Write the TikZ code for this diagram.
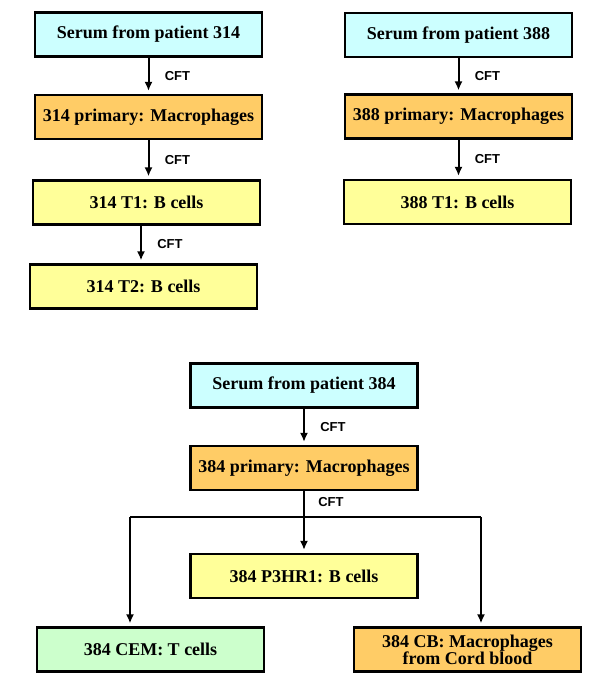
\documentclass[tikz,border=0pt]{standalone}
\usepackage{fontspec}
\setmainfont{Liberation Serif}
\newfontfamily\cftfont{Liberation Sans}
\usetikzlibrary{arrows.meta, calc}
\definecolor{serum}{HTML}{CCFFFF}
\definecolor{macro}{HTML}{FFCC66}
\definecolor{bcell}{HTML}{FFFF99}
\definecolor{tcell}{HTML}{CCFFCC}
\tikzset{
  box/.style={draw, line width=2.2pt, minimum width=227pt, minimum height=44pt,
    inner sep=2pt, align=center, font=\fontsize{18}{17}\selectfont\bfseries},
  arr/.style={line width=2pt, -{Latex[length=9pt,width=8pt]}, shorten >=3pt},
  cft/.style={font=\cftfont\fontsize{13}{14}\selectfont\bfseries, anchor=west, xshift=12pt},
}

\begin{document}
\begin{tikzpicture}[x=1pt, y=-1pt]
\useasboundingbox (0,0) rectangle (600,686);
% patient 314
\node[box, fill=serum] (s314) at (148.5,34.5) {Serum from patient 314};
\node[box, fill=macro] (p314) at (148.5,117) {314 primary: Macrophages};
\node[box, fill=bcell] (t1a) at (146.5,202.5) {314 T1: B cells};
\node[box, fill=bcell] (t2a) at (143.5,286.5) {314 T2: B cells};
\coordinate (k314) at ([xshift=-5.5pt]t1a.south);
\draw[arr] (s314.south) -- (s314.south |- p314.north) node[cft, midway] {CFT};
\draw[arr] (p314.south) -- (p314.south |- t1a.north) node[cft, midway] {CFT};
\draw[arr] (k314) -- (k314 |- t2a.north) node[cft, midway] {CFT};
% patient 388
\node[box, fill=serum] (s388) at (458.5,35) {Serum from patient 388};
\node[box, fill=macro] (p388) at (458.5,116.5) {388 primary: Macrophages};
\node[box, fill=bcell] (t1b) at (457.5,202) {388 T1: B cells};
\draw[arr] (s388.south) -- (s388.south |- p388.north) node[cft, midway] {CFT};
\draw[arr] (p388.south) -- (p388.south |- t1b.north) node[cft, midway] {CFT};
% patient 384
\node[box, fill=serum] (s384) at (304,385.5) {Serum from patient 384};
\node[box, fill=macro] (p384) at (304,468) {384 primary: Macrophages};
\node[box, fill=bcell] (p3hr1) at (304,576) {384 P3HR1: B cells};
\node[box, fill=tcell] (cem) at (150.5,649.5) {384 CEM: T cells};
\node[box, fill=macro] (cb) at (467.5,649.5) {384 CB: Macrophages\\from Cord blood};
\coordinate (lft) at (130,517);
\coordinate (rgt) at (481,517);
\draw[arr] (s384.south) -- (p384.north) node[cft, midway] {CFT};
\draw[arr] (p384.south) -- (p3hr1.north) node[cft, pos=0.18, xshift=-2pt] {CFT};
\draw[line width=2pt] (lft) -- (rgt);
\draw[arr] (lft) -- (lft |- cem.north);
\draw[arr] (rgt) -- (rgt |- cb.north);
\end{tikzpicture}
\end{document}
